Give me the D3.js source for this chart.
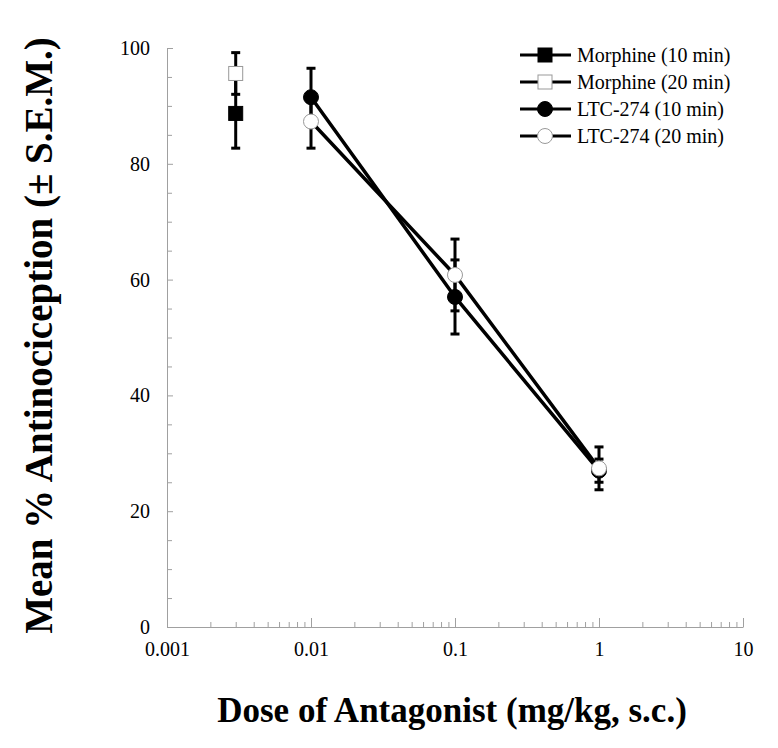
<!DOCTYPE html>
<html>
<head>
<meta charset="utf-8">
<script src="https://cdn.jsdelivr.net/npm/d3@7"></script>
<style>
  body { margin: 0; background: #fff; }
  svg text { font-family: "Liberation Serif", "Times New Roman", serif; }
</style>
</head>
<body>
<div id="chart"></div>
<script>
// Data
const seriesNames = ['Morphine (10 min)', 'Morphine (20 min)', 'LTC-274 (10 min)', 'LTC-274 (20 min)'];
const morphine10 = [{dose: 0.003, mean: 88.7, sem: 6.0}];
const morphine20 = [{dose: 0.003, mean: 95.6, sem: 3.6}];
const ltc10 = [
    {dose: 0.01, mean: 91.5, sem: 5.0},
    {dose: 0.1, mean: 57.0, sem: 6.4},
    {dose: 1, mean: 27.0, sem: 2.0}
];
const ltc20 = [
    {dose: 0.01, mean: 87.3, sem: 4.6},
    {dose: 0.1, mean: 60.8, sem: 6.2},
    {dose: 1, mean: 27.4, sem: 3.7}
];
const xTicks = [0.001, 0.01, 0.1, 1, 10];
const yTicks = [0, 20, 40, 60, 80, 100];

const width = 778, height = 748;
const svg = d3.select('#chart')
    .append('svg')
    .attr('width', width)
    .attr('height', height);

const x = d3.scaleLog().domain([0.001, 10]).range([167, 743]);
const y = d3.scaleLinear().domain([0, 100]).range([627, 48]);
const axisColor = '#a0a0a0';
const serif = '"Liberation Serif", "Times New Roman", serif';

// Y axis (ticks point inward)
const yMinor = d3.range(0, 101, 5).filter(v => v % 20 !== 0);
svg.append('g')
    .attr('transform', `translate(${x(0.001)},0)`)
    .call(d3.axisRight(y).tickValues(yMinor).tickSize(5).tickFormat(''))
    .call(g => g.select('.domain').remove())
    .selectAll('line').attr('stroke', axisColor);
const yAxis = svg.append('g')
    .attr('transform', `translate(${x(0.001)},0)`)
    .call(d3.axisRight(y).tickValues(yTicks).tickSize(6).tickSizeOuter(0));
yAxis.attr('font-family', null);
yAxis.select('.domain').attr('stroke', axisColor);
yAxis.selectAll('line').attr('stroke', axisColor);
yAxis.selectAll('text')
    .attr('x', -17)
    .attr('text-anchor', 'end')
    .style('font-size', '20px')
    .style('font-family', serif)
    .attr('fill', '#000');

// X axis (ticks point up)
const xMinor = [];
for (let d = 0.001; d < 10; d *= 10) {
    for (let k = 2; k <= 9; k++) xMinor.push(d * k);
}
svg.append('g')
    .attr('transform', `translate(0,${y(0)})`)
    .call(d3.axisTop(x).tickValues(xMinor).tickSize(5).tickFormat(''))
    .call(g => g.select('.domain').remove())
    .selectAll('line').attr('stroke', axisColor);
const xAxis = svg.append('g')
    .attr('transform', `translate(0,${y(0)})`)
    .call(d3.axisTop(x).tickValues(xTicks).tickSize(9).tickSizeOuter(0)
        .tickFormat(d => String(d)));
xAxis.attr('font-family', null);
xAxis.select('.domain').attr('stroke', axisColor);
xAxis.selectAll('line').attr('stroke', axisColor);
xAxis.selectAll('text')
    .attr('y', 29)
    .style('font-size', '20px')
    .style('font-family', serif)
    .attr('fill', '#000');

// Axis titles
svg.append('text')
    .attr('transform', `translate(52,${(y(0) + y(100)) / 2 - 2}) rotate(-90)`)
    .attr('text-anchor', 'middle')
    .attr('font-weight', 'bold')
    .style('font-size', '39px')
    .text('Mean % Antinociception (± S.E.M.)');
svg.append('text')
    .attr('x', 452)
    .attr('y', 722)
    .attr('text-anchor', 'middle')
    .attr('font-weight', 'bold')
    .style('font-size', '35px')
    .text('Dose of Antagonist (mg/kg, s.c.)');

// Series definitions
const series = [
    {name: seriesNames[0], data: morphine10, shape: 'square', fill: '#000', stroke: '#000'},
    {name: seriesNames[1], data: morphine20, shape: 'square', fill: '#fff', stroke: '#999'},
    {name: seriesNames[2], data: ltc10, shape: 'circle', fill: '#000', stroke: '#000'},
    {name: seriesNames[3], data: ltc20, shape: 'circle', fill: '#fff', stroke: '#999'}
];

function drawMarker(g, s, cx, cy) {
    if (s.shape === 'square') {
        g.append('rect')
            .attr('x', cx - 7).attr('y', cy - 7)
            .attr('width', 14).attr('height', 14)
            .attr('fill', s.fill).attr('stroke', s.stroke).attr('stroke-width', 1);
    } else {
        g.append('circle')
            .attr('cx', cx).attr('cy', cy).attr('r', 7.5)
            .attr('fill', s.fill).attr('stroke', s.stroke).attr('stroke-width', 1);
    }
}

const line = d3.line().x(d => x(d.dose)).y(d => y(d.mean));

// Error bars
series.forEach(s => {
    const eb = svg.append('g');
    s.data.forEach(d => {
        const cx = x(d.dose);
        eb.append('line')
            .attr('x1', cx).attr('x2', cx)
            .attr('y1', y(d.mean - d.sem)).attr('y2', y(d.mean + d.sem))
            .attr('stroke', '#000').attr('stroke-width', 3);
        [d.mean - d.sem, d.mean + d.sem].forEach(v => {
            eb.append('line')
                .attr('x1', cx - 4.5).attr('x2', cx + 4.5)
                .attr('y1', y(v)).attr('y2', y(v))
                .attr('stroke', '#000').attr('stroke-width', 3);
        });
    });
});

// Lines and markers
series.forEach(s => {
    if (s.data.length > 1) {
        svg.append('path')
            .datum(s.data)
            .attr('fill', 'none')
            .attr('stroke', '#000')
            .attr('stroke-width', 3.5)
            .attr('d', line);
    }
});
series.forEach(s => {
    const g = svg.append('g');
    s.data.forEach(d => drawMarker(g, s, x(d.dose), y(d.mean)));
});

// Legend
const legend = svg.append('g');
series.forEach((s, i) => {
    const ly = 55 + i * 27;
    const row = legend.append('g');
    row.append('line')
        .attr('x1', 520).attr('x2', 571)
        .attr('y1', ly).attr('y2', ly)
        .attr('stroke', '#000').attr('stroke-width', 3);
    drawMarker(row, s, 545, ly);
    row.append('text')
        .attr('x', 577)
        .attr('y', ly + 7)
        .style('font-size', '20px')
        .text(s.name);
});
</script>
</body>
</html>
